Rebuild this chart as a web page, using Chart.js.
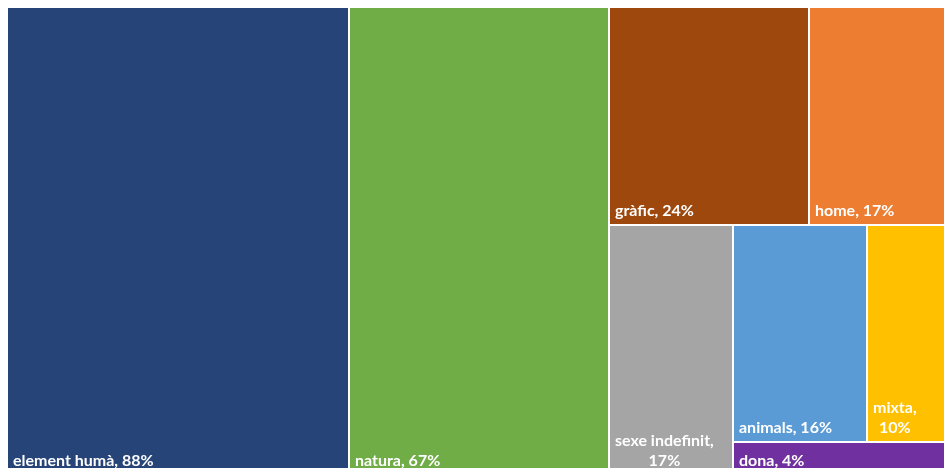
<!DOCTYPE html>
<html>
<head>
<meta charset="utf-8">
<script src="https://cdn.jsdelivr.net/npm/chart.js@4.4.1/dist/chart.umd.min.js"></script>
<style>
  html, body { margin: 0; padding: 0; background: #ffffff; overflow: hidden; }
  #treemap { display: block; }
</style>
</head>
<body>
<canvas id="treemap" width="951" height="475"></canvas>
<script>
// data (percent of images), sorted largest first
const categories = ['element humà', 'natura', 'gràfic', 'home', 'sexe indefinit', 'animals', 'mixta', 'dona'];
const values = [88, 67, 24, 17, 17, 16, 10, 4];
const colors = ['#264478', '#70AD47', '#9E480E', '#ED7D31', '#A5A5A5', '#5B9BD5', '#FFC000', '#7030A0'];

// how many tiles go in each strip (Excel's split of the same data)
const stripSizes = [1, 1, 2, 1, 2, 1];

const labelFont = 'bold 16px Lato';

// lays the tiles out in data units (0..1 on both axes), each strip across the short side
const layoutTiles = (xScale, yScale) => {
    const tiles = [];
    let x0 = 0, y0 = 0, x1 = 1, y1 = 1;
    let remaining = values.reduce((a, b) => a + b, 0);
    let i = 0;
    stripSizes.forEach(n => {
        const items = values.slice(i, i + n);
        const sum = items.reduce((a, b) => a + b, 0);
        const pw = Math.abs(xScale.getPixelForValue(x1) - xScale.getPixelForValue(x0));
        const ph = Math.abs(yScale.getPixelForValue(y1) - yScale.getPixelForValue(y0));
        if (pw >= ph) {
            const xe = x0 + (x1 - x0) * sum / remaining;
            let yy = y0;
            items.forEach((v, k) => {
                const ye = yy + (y1 - y0) * v / sum;
                tiles.push({ index: i + k, x0: x0, x1: xe, y0: yy, y1: ye });
                yy = ye;
            });
            x0 = xe;
        } else {
            const ye = y0 + (y1 - y0) * sum / remaining;
            let xx = x0;
            items.forEach((v, k) => {
                const xe = xx + (x1 - x0) * v / sum;
                tiles.push({ index: i + k, x0: xx, x1: xe, y0: y0, y1: ye });
                xx = xe;
            });
            y0 = ye;
        }
        remaining -= sum;
        i += n;
    });
    return tiles;
};

const treemapPlugin = {
    id: 'treemapTiles',
    afterDatasetsDraw(chart) {
        const ctx = chart.ctx;
        const xScale = chart.scales.x;
        const yScale = chart.scales.y;
        const tiles = layoutTiles(xScale, yScale);
        ctx.save();
        tiles.forEach(t => {
            const left = Math.round(xScale.getPixelForValue(t.x0)) + 1;
            const right = Math.round(xScale.getPixelForValue(t.x1)) - 1;
            const top = Math.round(yScale.getPixelForValue(t.y0)) + 1;
            const bottom = Math.round(yScale.getPixelForValue(t.y1)) - 1;
            ctx.fillStyle = colors[t.index];
            ctx.fillRect(left, top, right - left, bottom - top);

            // label sits at the bottom left, wraps after the comma when too wide
            ctx.font = labelFont;
            ctx.fillStyle = '#ffffff';
            ctx.textBaseline = 'alphabetic';
            const full = categories[t.index] + ', ' + values[t.index] + '%';
            let lines = [full];
            if (ctx.measureText(full).width > right - left - 10) {
                lines = [categories[t.index] + ',', values[t.index] + '%'];
            }
            const blockW = Math.max(...lines.map(l => ctx.measureText(l).width));
            const lineH = 20;
            ctx.textAlign = 'center';
            lines.forEach((line, k) => {
                const yPos = bottom - 8 - (lines.length - 1 - k) * lineH;
                ctx.fillText(line, left + 5 + blockW / 2, yPos);
            });
        });
        ctx.restore();
    }
};

const chart = new Chart(document.getElementById('treemap'), {
    type: 'scatter',
    data: { datasets: [{ data: [] }] },
    options: {
        responsive: false,
        animation: false,
        devicePixelRatio: 1,
        layout: { padding: { left: 7, top: 7, right: 0, bottom: 0 } },
        scales: {
            x: { type: 'linear', min: 0, max: 1, display: false },
            y: { type: 'linear', min: 0, max: 1, reverse: true, display: false }
        },
        plugins: {
            legend: { display: false },
            tooltip: { enabled: false }
        }
    },
    plugins: [treemapPlugin]
});
</script>
</body>
</html>
